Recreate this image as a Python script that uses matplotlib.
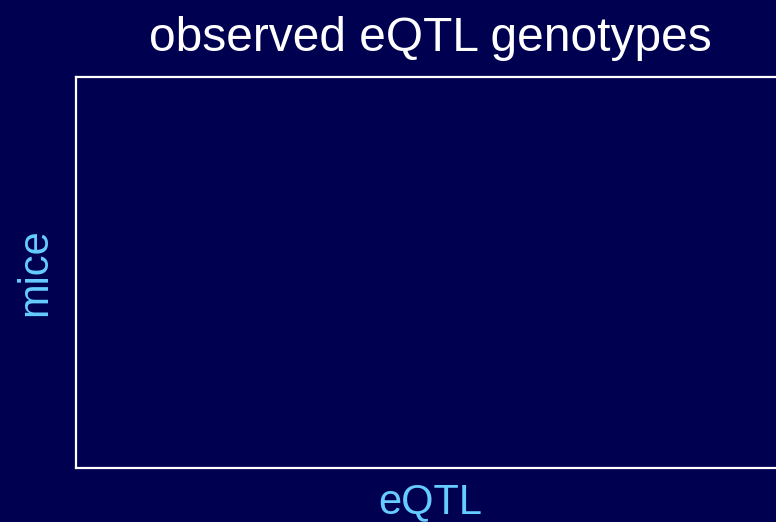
import matplotlib
matplotlib.use("Agg")
import matplotlib.pyplot as plt

# chart texts
title = "observed eQTL genotypes"
xlabel = "eQTL"
ylabel = "mice"

bg = "#000050"
label_col = "#66CCFF"

plt.rcParams['font.family'] = ['Liberation Sans', 'DejaVu Sans']

fig = plt.figure(figsize=(7.76, 5.22), dpi=100, facecolor=bg)
ax = fig.add_axes([0.0985, 0.1035, 0.912, 0.749])
ax.set_facecolor(bg)
for s in ax.spines.values():
    s.set_color("white")
    s.set_linewidth(1.6)
ax.set_xticks([])
ax.set_yticks([])

ax.set_title(title, color="white", fontsize=34.5, pad=18.5)
ax.set_xlabel(xlabel, color=label_col, fontsize=30, labelpad=10)
ax.set_ylabel(ylabel, color=label_col, fontsize=30, labelpad=15)

fig.savefig("out.png", dpi=100, facecolor=bg)
